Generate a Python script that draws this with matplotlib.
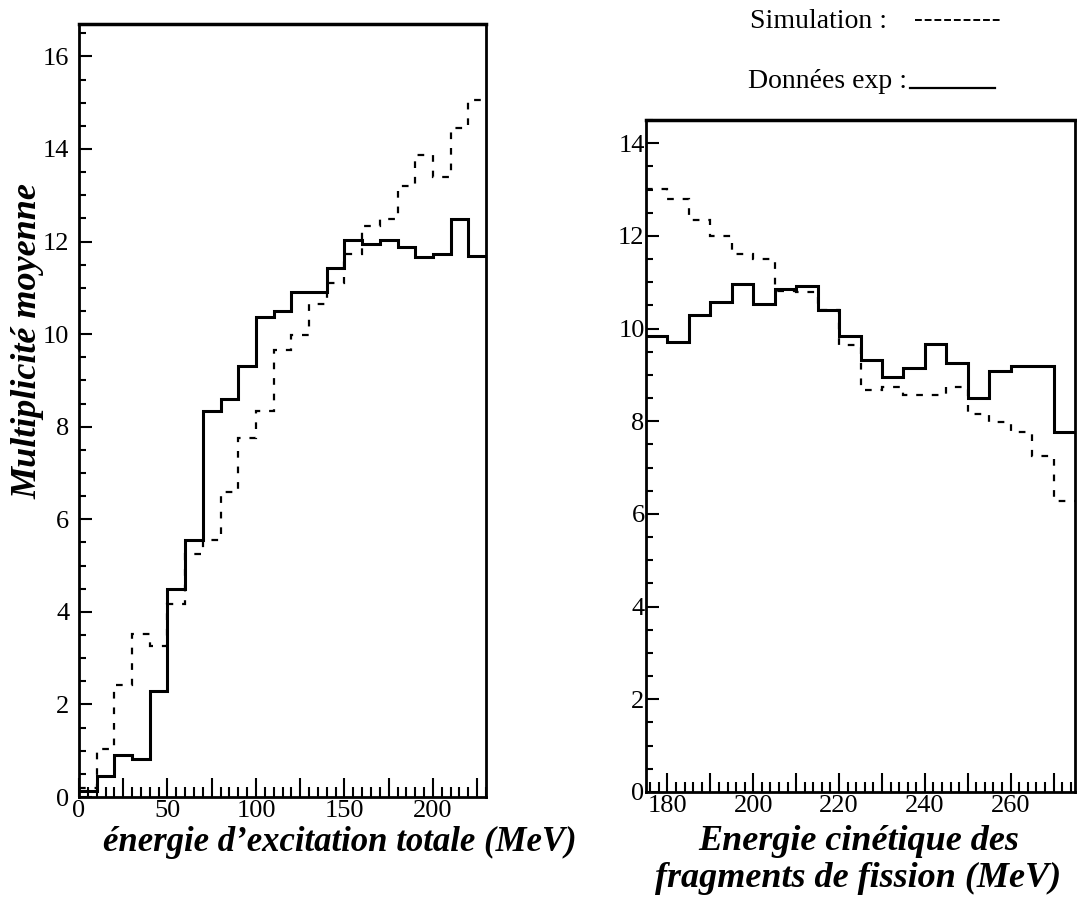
import matplotlib
matplotlib.use("Agg")
import matplotlib.pyplot as plt
import numpy as np
from matplotlib.lines import Line2D
from matplotlib.ticker import MultipleLocator, FuncFormatter

plt.rcParams['font.family'] = ['Liberation Serif', 'DejaVu Serif']

# left panel: total excitation energy, 10 MeV bins
left_edges = np.arange(0, 240, 10)
left_exp = [0.12, 0.45, 0.9, 0.83, 2.3, 4.5, 5.55, 8.34, 8.6, 9.32, 10.37, 10.5,
            10.9, 10.9, 11.43, 12.03, 11.94, 12.03, 11.89, 11.67, 11.74, 12.48, 11.68]
left_sim = [0.2, 1.04, 2.42, 3.53, 3.27, 4.17, 5.25, 5.55, 6.6, 7.75, 8.34, 9.65,
            9.98, 10.65, 11.1, 11.74, 12.34, 12.48, 13.2, 13.87, 13.4, 14.46, 15.05]

# right panel: fragment kinetic energy, 5 MeV bins
right_edges = np.arange(175, 280, 5)
right_exp = [9.83, 9.71, 10.29, 10.57, 10.97, 10.52, 10.86, 10.92, 10.4, 9.83,
             9.32, 8.96, 9.14, 9.66, 9.26, 8.5, 9.08, 9.19, 9.19, 7.76]
right_sim = [13.02, 12.8, 12.34, 11.99, 11.6, 11.49, 10.82, 10.78, 10.4, 9.65,
             8.68, 8.73, 8.56, 8.56, 8.73, 8.16, 7.98, 7.76, 7.26, 6.27]

sim_dash = (0, (3, 4))

fig = plt.figure(figsize=(10.77, 9.09), dpi=100)
ax1 = fig.add_axes([79/1077, 1-797/909, 407/1077, 773/909])
ax2 = fig.add_axes([646/1077, 1-792/909, 429/1077, 672/909])


def style(ax, xmaj, xmin, xstep, ypad):
    for s in ax.spines.values():
        s.set_linewidth(2)
    ax.spines['top'].set_linewidth(2.5)
    ax.yaxis.set_major_locator(MultipleLocator(2))
    ax.yaxis.set_minor_locator(MultipleLocator(0.5))
    ax.xaxis.set_major_locator(MultipleLocator(xmaj))
    ax.xaxis.set_minor_locator(MultipleLocator(xmin))
    # only every other major x tick carries a label
    ax.xaxis.set_major_formatter(FuncFormatter(
        lambda v, p: str(int(round(v))) if int(round(v)) % xstep == 0 else ''))
    ax.tick_params(which='both', direction='in', top=False, right=False,
                   labelsize=19, width=1.5)
    ax.tick_params(axis='y', which='major', length=9.5, pad=ypad)
    ax.tick_params(axis='y', which='minor', length=5)
    ax.tick_params(axis='x', which='major', length=14, pad=2)
    ax.tick_params(axis='x', which='minor', length=7)


ax1.stairs(left_exp, left_edges, baseline=None, color='black', lw=2.2)
ax1.stairs(left_sim, left_edges, baseline=None, color='black', lw=1.6, linestyle=sim_dash)
ax1.set_xlim(0, 230)
ax1.set_ylim(0, 16.7)
style(ax1, 25, 5, 50, 7)
ax1.set_xlabel("énergie d’excitation totale (MeV)", fontsize=25,
               fontweight='bold', fontstyle='italic')
ax1.xaxis.set_label_coords(0.641, -0.037)
ax1.xaxis.label.set_va('top')
ax1.set_ylabel("Multiplicité moyenne", fontsize=26, fontweight='bold',
               fontstyle='italic')
ax1.yaxis.set_label_coords(-0.086, 0.59)

ax2.stairs(right_exp, right_edges, baseline=None, color='black', lw=2.2)
ax2.stairs(right_sim, right_edges, baseline=None, color='black', lw=1.6, linestyle=sim_dash)
ax2.set_xlim(175, 275)
ax2.set_ylim(0, 14.5)
style(ax2, 10, 2, 20, 1)
ax2.set_xlabel("Energie cinétique des\nfragments de fission (MeV)", fontsize=26,
               fontweight='bold', fontstyle='italic', linespacing=1.15)
ax2.xaxis.set_label_coords(0.495, -0.049)
ax2.xaxis.label.set_va('top')

# key drawn above the right panel: label then line sample
fig.text(750/1077, 1-22/909, "Simulation :", fontsize=20, va='center', ha='left')
fig.text(748/1077, 1-82/909, "Données exp :", fontsize=20, va='center', ha='left')
fig.add_artist(Line2D([915/1077, 1000/1077], [1-20/909, 1-20/909], transform=fig.transFigure,
                      color='black', lw=1.4, linestyle=(0, (3.5, 1.5))))
fig.add_artist(Line2D([910/1077, 995/1077], [1-88/909, 1-88/909], transform=fig.transFigure,
                      color='black', lw=1.6))

fig.savefig("out.png", dpi=100)
